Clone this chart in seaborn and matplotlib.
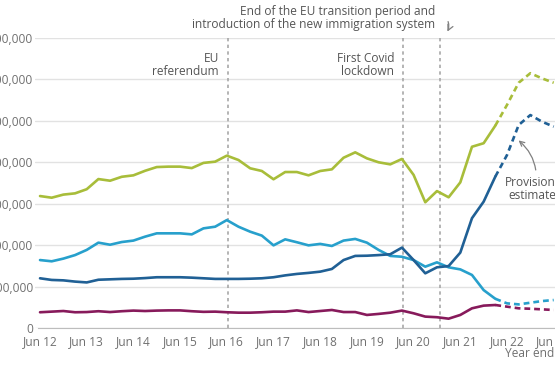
import matplotlib
matplotlib.use("Agg")
import matplotlib.pyplot as plt
import seaborn as sns
import pandas as pd
from matplotlib.ticker import FuncFormatter, FixedLocator

# quarterly, year ending Jun 12 ... Jun 23 (thousands)
quarters = [f"{m} {y}" for y in range(12, 24) for m in ("Mar", "Jun", "Sep", "Dec")][1:46]
tick_labels = ["Jun 12", "Jun 13", "Jun 14", "Jun 15", "Jun 16", "Jun 17",
               "Jun 18", "Jun 19", "Jun 20", "Jun 21", "Jun 22", "Jun 23"]
last_actual = "Mar 22"

total = [637, 629, 644, 650, 670, 719, 711, 730, 737, 759, 777, 779, 779, 772, 797,
         803, 832, 811, 771, 758, 718, 753, 753, 737, 758, 766, 822, 848, 819, 800,
         790, 816, 739, 607, 661, 631, 703, 875, 892, 977, 1077, 1184, 1230, 1205, 1184]
eu = [328, 322, 335, 352, 377, 412, 402, 415, 422, 441, 457, 457, 457, 452, 481,
      489, 521, 489, 465, 446, 399, 428, 414, 399, 406, 396, 422, 430, 412, 377,
      348, 344, 328, 296, 317, 293, 283, 256, 183, 141, 119, 114, 122, 130, 135]
non_eu = [240, 232, 230, 224, 220, 233, 235, 237, 238, 241, 245, 245, 245, 243, 240,
          237, 237, 237, 238, 240, 245, 254, 261, 266, 272, 285, 328, 348, 349, 352,
          356, 388, 328, 264, 293, 299, 364, 530, 610, 731, 835, 980, 1028, 996, 972]
british = [76, 79, 82, 76, 77, 81, 77, 81, 84, 82, 84, 85, 85, 81, 78,
           79, 76, 74, 74, 76, 79, 79, 85, 77, 82, 87, 77, 77, 63, 68,
           74, 84, 71, 55, 52, 45, 63, 95, 108, 111, 103, 95, 93, 90, 87]

# event markers (quarter positions)
event_pos = [16.1, 31.1, 34.3]

colors = {"Total": "#a8bd3a", "EU": "#27a0cc", "Non-EU": "#206095", "British": "#871a5b"}
series = {"Total": total, "EU": eu, "Non-EU": non_eu, "British": british}

cut = quarters.index(last_actual)
rows = []
for name, vals in series.items():
    for i, v in enumerate(vals):
        if i <= cut:
            rows.append((name, "Actual", i, v * 1000))
        if i >= cut:
            rows.append((name, "Provisional", i, v * 1000))
df = pd.DataFrame(rows, columns=["series", "status", "q", "value"])

sns.set_style("white")
plt.rcParams["font.family"] = ["Open Sans", "DejaVu Sans"]
fs = 8.6

fig = plt.figure(figsize=(5.55, 3.7), dpi=100)
ax = fig.add_axes([35 / 555, 1 - 328 / 370, 525 / 555, 290 / 370])

for x in event_pos:
    ax.axvline(x, color="#a8a8a8", lw=1.2, ls=(0, (2, 2)), zorder=1)

sns.lineplot(data=df, x="q", y="value", hue="series", style="status",
             palette=colors, dashes={"Actual": "", "Provisional": (2.2, 1.5)},
             linewidth=1.9, estimator=None, sort=False, legend=False, ax=ax, zorder=3)

ax.set_xlim(-0.43, 44.54)
ax.set_ylim(0, 1400000)
ax.yaxis.set_major_locator(FixedLocator(range(0, 1400001, 200000)))
ax.yaxis.set_major_formatter(FuncFormatter(lambda v, p: f"{int(v):,}"))
ax.set_xticks(range(0, 45, 4))
ax.set_xticklabels(tick_labels)
ax.set_xlabel("")
ax.set_ylabel("")

ax.yaxis.grid(True, color="#e2e2e2", lw=1)
ax.xaxis.grid(False)
for s in ["left", "top", "right"]:
    ax.spines[s].set_visible(False)
ax.spines["bottom"].set_color("#bdbdbd")
ax.spines["bottom"].set_bounds(-0.15, 44.54)
ax.tick_params(axis="y", length=0, pad=1.3, labelsize=fs, labelcolor="#707070")
ax.tick_params(axis="x", length=3, width=1, color="#bdbdbd", pad=2,
               labelsize=fs, labelcolor="#707070")

txt = dict(fontsize=fs, color="#555555", linespacing=1.0)
ax.annotate("EU\nreferendum", xy=(event_pos[0], 1400000), xytext=(-6.5, -10),
            textcoords="offset points", ha="right", va="top", **txt)
ax.annotate("First Covid\nlockdown", xy=(event_pos[1], 1400000), xytext=(-6.5, -10),
            textcoords="offset points", ha="right", va="top", **txt)
ax.annotate("End of the EU transition period and\nintroduction of the new immigration system",
            xy=(event_pos[2], 1400000), xytext=(-3.6, 7.2), textcoords="offset points",
            ha="right", va="baseline", annotation_clip=False, **txt)
ax.annotate("", xy=(446, 370 - 34), xytext=(447, 370 - 19), xycoords="figure pixels",
            textcoords="figure pixels",
            arrowprops=dict(arrowstyle="->", color="#808080", lw=0.9,
                            connectionstyle="arc3,rad=-0.3"))
ax.annotate("Provisional\nestimates", xy=(40.9, 910000), xytext=(535, 370 - 189),
            textcoords="figure pixels", ha="center", va="center", annotation_clip=False,
            arrowprops=dict(arrowstyle="->", color="#808080", lw=0.9,
                            connectionstyle="arc3,rad=0.3", shrinkA=2, shrinkB=1), **txt)
fig.text(505 / 555, 1 - 354 / 370, "Year ending", ha="left", va="center",
         fontsize=fs, color="#707070")

fig.savefig("out.png", dpi=100)
